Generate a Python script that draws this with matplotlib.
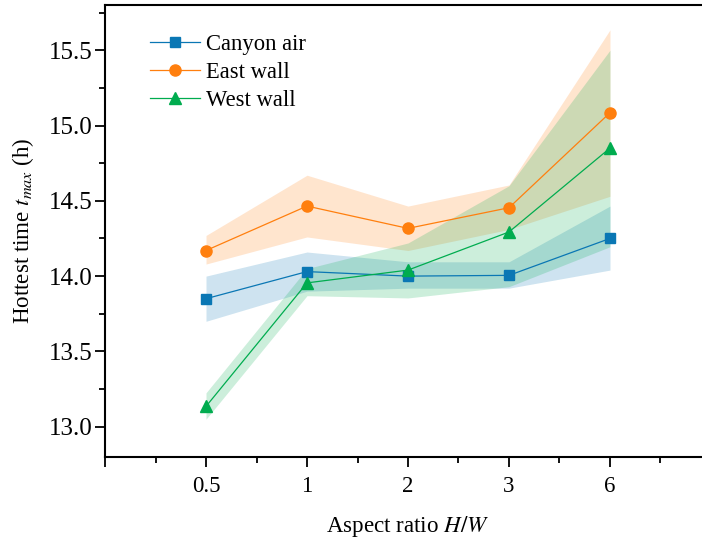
import matplotlib
matplotlib.use("Agg")
import matplotlib.pyplot as plt
from matplotlib.ticker import FixedLocator, MultipleLocator, FormatStrFormatter

plt.rcParams["font.family"] = "Liberation Serif"
plt.rcParams["mathtext.fontset"] = "stix"
plt.rcParams["font.size"] = 16.5

# aspect ratios (plotted at equal spacing)
ratios = ["0.5", "1", "2", "3", "6"]

canyon_mean = [13.85, 14.03, 14.00, 14.005, 14.25]
canyon_lo = [13.70, 13.90, 13.92, 13.92, 14.04]
canyon_hi = [14.00, 14.16, 14.095, 14.095, 14.465]

east_mean = [14.17, 14.465, 14.317, 14.454, 15.085]
east_lo = [14.08, 14.26, 14.17, 14.31, 14.53]
east_hi = [14.27, 14.67, 14.465, 14.605, 15.635]

west_mean = [13.135, 13.955, 14.04, 14.293, 14.85]
west_lo = [13.05, 13.87, 13.855, 13.93, 14.195]
west_hi = [13.225, 14.05, 14.22, 14.60, 15.50]

series = [
    ("Canyon air", canyon_mean, canyon_lo, canyon_hi, "#0a77b4", "s", 7),
    ("East wall", east_mean, east_lo, east_hi, "#ff7f0e", "o", 8),
    ("West wall", west_mean, west_lo, west_hi, "#00ac4f", "^", 9),
]

fig = plt.figure(figsize=(7.02, 5.40), dpi=100)
ax = fig.add_axes([0.1496, 0.154, 0.8632, 0.8367])

xpos = list(range(1, len(ratios) + 1))
for name, m, lo, hi, col, mk, ms in series:
    ax.fill_between(xpos, lo, hi, color=col, alpha=0.2, linewidth=0)
    ax.plot(xpos, m, color=col, marker=mk, markersize=ms, linewidth=0.9,
            label=name)

ax.set_xlim(0, 6)
ax.set_ylim(12.8, 15.8)
ax.xaxis.set_major_locator(FixedLocator(range(0, 6)))
ax.set_xticklabels([""] + ratios)
ax.xaxis.set_minor_locator(FixedLocator([i + 0.5 for i in range(6)]))
ax.yaxis.set_major_locator(MultipleLocator(0.5))
ax.yaxis.set_minor_locator(MultipleLocator(0.25))
ax.yaxis.set_major_formatter(FormatStrFormatter("%.1f"))
ax.tick_params(which="major", direction="out", length=7, width=1.3)
ax.tick_params(which="minor", direction="out", length=4, width=1.3)
ax.tick_params(axis="x", pad=7, labelsize=16.5)
ax.tick_params(axis="y", pad=2, labelsize=18)
for sp in ax.spines.values():
    sp.set_linewidth(1.5)

ax.set_xlabel("Aspect ratio $H/W$", fontsize=16.6, labelpad=12)
ax.set_ylabel("Hottest time $t_{max}$ (h)", fontsize=16.6, labelpad=9)

ax.legend(loc="upper left", bbox_to_anchor=(0.059, 0.956), frameon=False,
          fontsize=16.3, handlelength=2.2, handletextpad=0.3,
          labelspacing=0.3, borderaxespad=0.0)

fig.savefig("out.png", dpi=100)
